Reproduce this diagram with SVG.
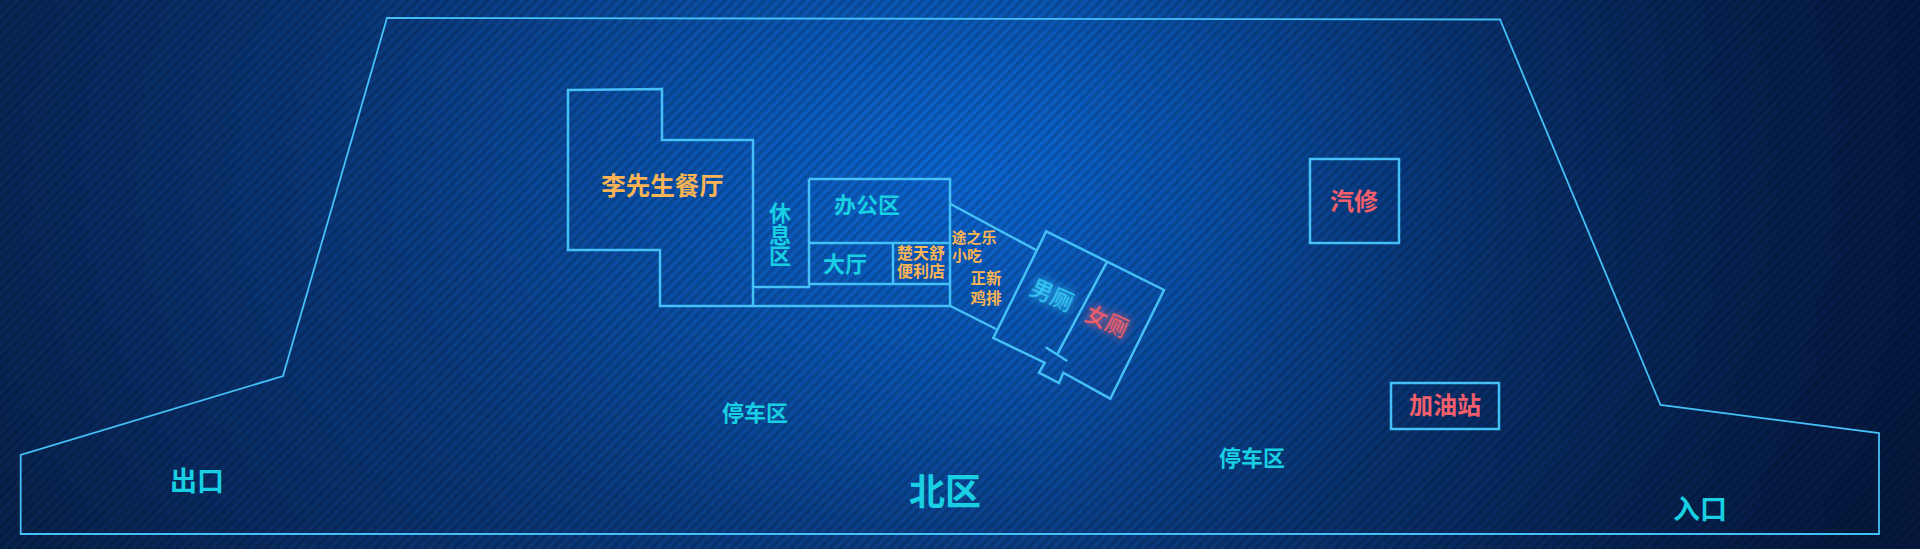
<svg xmlns="http://www.w3.org/2000/svg" width="1920" height="549" viewBox="0 0 1920 549">
<defs>
<radialGradient id="bg" gradientUnits="userSpaceOnUse" cx="960" cy="170" r="1050" gradientTransform="translate(960 170) scale(1 .7) translate(-960 -170)">
<stop offset="0" stop-color="#0c66d2"/><stop offset=".25" stop-color="#0a55b2"/><stop offset=".55" stop-color="#0a3b80"/><stop offset=".85" stop-color="#082a60"/><stop offset="1" stop-color="#07234f"/>
</radialGradient>
<linearGradient id="shade" x1="0" y1="0" x2="1" y2="0"><stop offset=".55" stop-color="#021030" stop-opacity="0"/><stop offset="1" stop-color="#021030" stop-opacity=".55"/></linearGradient>
<pattern id="stripes" width="7" height="7" patternUnits="userSpaceOnUse" patternTransform="rotate(-45)">
<rect width="7" height="3.500" fill="#000" fill-opacity=".16"/>
</pattern>
<filter id="glow" x="-40%" y="-60%" width="180%" height="220%"><feGaussianBlur stdDeviation="4" result="b"/><feMerge><feMergeNode in="b"/><feMergeNode in="SourceGraphic"/></feMerge></filter>
<style>
.w{fill:none;stroke:#45c0f7;stroke-width:2.500;stroke-linejoin:miter}
.o{stroke-width:1.800}
text{font-family:"Noto Sans CJK SC","Liberation Sans",sans-serif;font-weight:700;text-anchor:middle;dominant-baseline:central}
.c{fill:#18cfe3}.y{fill:#fbb454}.r{fill:#f55f6b}.b{fill:#35c6f5}
.t{font-weight:500}
</style>
</defs>
<rect id="background" width="1920" height="549" fill="url(#bg)"/>
<rect id="shade-layer" width="1920" height="549" fill="url(#shade)"/>
<rect id="stripes-layer" width="1920" height="549" fill="url(#stripes)"/>
<g id="connectors">
<path class="w" d="M950.500 204L1036 250M950.500 306L996 329"/>
</g>
<g id="site"><path class="w o" d="M387 18L1500 19.500L1660.500 405L1879 433V534H20.700V455L283 376Z"/></g>
<g id="restaurant"><path class="w" d="M568 90L662 89V140H753V306H660V250H568Z"/><text class="y" x="662.500" y="184" font-size="24.500">李先生餐厅</text></g>
<g id="rest-area"><path class="w" d="M753 287H809V179"/><text class="c" x="780" y="211" font-size="22">休</text><text class="c" x="780" y="233" font-size="22">息</text><text class="c" x="780" y="254" font-size="22">区</text></g>
<g id="office"><path class="w" d="M809 179H950V306H753M809 243H950"/><text class="c" x="867" y="203" font-size="22">办公区</text></g>
<g id="hall"><path class="w" d="M809 284H950"/><text class="c" x="845" y="262" font-size="22">大厅</text></g>
<g id="store"><path class="w" d="M893 243V284"/><text class="y" x="921" y="252" font-size="16">楚天舒</text><text class="y" x="921" y="270" font-size="16">便利店</text></g>
<g id="snack"><text class="y" x="974" y="236" font-size="15">途之乐</text><text x="967" y="254" class="y" font-size="15">小吃</text></g>
<g id="chicken"><text class="y" x="986" y="277" font-size="15.500">正新</text><text x="986" y="297" class="y" font-size="15.500">鸡排</text></g>
<g id="toilets"><path class="w" d="M1046.300 231.300L1164 290L1110.300 398.700L1063.300 372.700L1059 383L1039 372.700L1044.700 362.700L993.300 338ZM1106.700 262.300L1057.700 353.300M1045.700 347.300L1067.300 361"/>
<text class="b t" x="1053" y="293" font-size="22" transform="rotate(24 1053 293)" filter="url(#glow)">男厕</text>
<text class="r t" x="1108" y="319" font-size="22" transform="rotate(24 1108 319)" filter="url(#glow)">女厕</text></g>
<g id="repair"><rect class="w" x="1310" y="159" width="89" height="84"/><text class="r" x="1354" y="199" font-size="24">汽修</text></g>
<g id="gas"><rect class="w" x="1391" y="383" width="108" height="46"/><text class="r" x="1445" y="403" font-size="24">加油站</text></g>
<g id="parking-1"><text class="c" x="755" y="411" font-size="22">停车区</text></g>
<g id="parking-2"><text class="c" x="1252" y="456" font-size="22">停车区</text></g>
<g id="north"><text class="c" x="945" y="489" font-size="36">北区</text></g>
<g id="exit"><text class="c" x="197" y="479" font-size="27">出口</text></g>
<g id="entrance"><text class="c" x="1700" y="507" font-size="27">入口</text></g>
</svg>
